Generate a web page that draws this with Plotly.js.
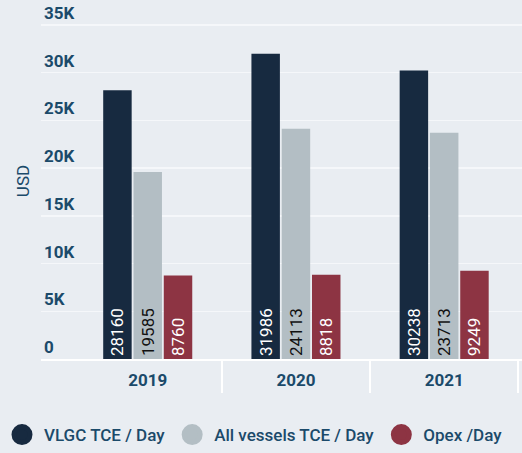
<!DOCTYPE html>
<html>
<head>
<meta charset="utf-8">
<script src="https://cdn.plot.ly/plotly-3.0.1.min.js"></script>
<style>html,body{margin:0;padding:0;background:#e9edf2;}#chart{width:522px;height:453px;}</style>
</head>
<body>
<div id="chart"></div>
<script>
const years = ["2019", "2020", "2021"];
const vlgcTce = [28160, 31986, 30238];
const allVesselsTce = [19585, 24113, 23713];
const opexDay = [8760, 8818, 9249];
const seriesNames = ["VLGC TCE / Day", "All vessels TCE / Day", "Opex /Day"];
const yTickVals = [0, 5000, 10000, 15000, 20000, 25000, 30000, 35000];
const yTickText = ["0", "5K", "10K", "15K", "20K", "25K", "30K", "35K"];

const colors = ["#172a40", "#b3bec4", "#8d3443"];
const textColors = ["#ffffff", "#111111", "#ffffff"];
const series = [vlgcTce, allVesselsTce, opexDay];

// category boundaries for the divider ticks
const boundaries = years.map((_, i) => i - 0.5).concat([years.length - 0.5]);
const xRange = [-0.72, 2.525];

const traces = [];
series.forEach((vals, i) => {
  traces.push({
    type: "bar",
    name: seriesNames[i],
    x: years,
    y: vals,
    marker: {color: colors[i]},
    text: vals.map(v => String(v)),
    textposition: "inside",
    insidetextanchor: "start",
    textangle: -90,
    textfont: {family: "Roboto", size: 17, color: textColors[i]},
    hoverinfo: "x+y",
    showlegend: false,
    legendgroup: "g" + i
  });
});
series.forEach((vals, i) => {
  traces.push({
    type: "scatter",
    mode: "markers",
    name: seriesNames[i],
    xaxis: "x2",
    yaxis: "y",
    x: [null],
    y: [null],
    marker: {symbol: "circle", size: 22, color: colors[i], line: {color: colors[i], width: 5}},
    showlegend: true,
    legendgroup: "g" + i
  });
});

const layout = {
  width: 522,
  height: 453,
  margin: {l: 40, r: 0, t: 3, b: 91},
  paper_bgcolor: "#e9edf2",
  plot_bgcolor: "#e9edf2",
  font: {family: "Roboto", color: "#1b4a6a"},
  barmode: "group",
  bargap: 0.387,
  bargroupgap: 0.06,
  xaxis: {
    type: "category",
    range: xRange,
    ticks: "",
    showgrid: false,
    showline: true,
    linecolor: "#ffffff",
    linewidth: 2,
    zeroline: false,
    ticklabelstandoff: 5,
    tickfont: {family: "Roboto", size: 17, weight: "bold", color: "#1b4a6a"},
    automargin: false,
    fixedrange: true
  },
  xaxis2: {
    overlaying: "x",
    anchor: "y",
    side: "bottom",
    type: "linear",
    range: xRange,
    tickmode: "array",
    tickvals: boundaries,
    showticklabels: false,
    ticks: "outside",
    ticklen: 33,
    tickwidth: 2,
    tickcolor: "#ffffff",
    showgrid: false,
    zeroline: false,
    showline: false,
    automargin: false,
    fixedrange: true
  },
  yaxis: {
    range: [0, 37300],
    tickmode: "array",
    tickvals: yTickVals,
    ticktext: yTickText,
    ticklabelposition: "inside top",
    ticks: "",
    showline: false,
    zeroline: false,
    showgrid: true,
    gridcolor: "#f5f7fa",
    gridwidth: 1.5,
    tickfont: {family: "Roboto", size: 17, weight: "bold", color: "#1b4a6a"},
    title: {text: "USD", standoff: 10, font: {family: "Roboto", size: 17, color: "#1b4a6a"}},
    automargin: false,
    fixedrange: true
  },
  legend: {
    orientation: "h",
    x: -0.086,
    xanchor: "left",
    y: -0.215,
    yanchor: "middle",
    itemwidth: 34,
    bgcolor: "rgba(0,0,0,0)",
    font: {family: "Roboto", size: 17, weight: 500, color: "#1b4a6a"}
  },
  showlegend: true
};

Plotly.newPlot("chart", traces, layout, {displayModeBar: false, staticPlot: true});
</script>
</body>
</html>
